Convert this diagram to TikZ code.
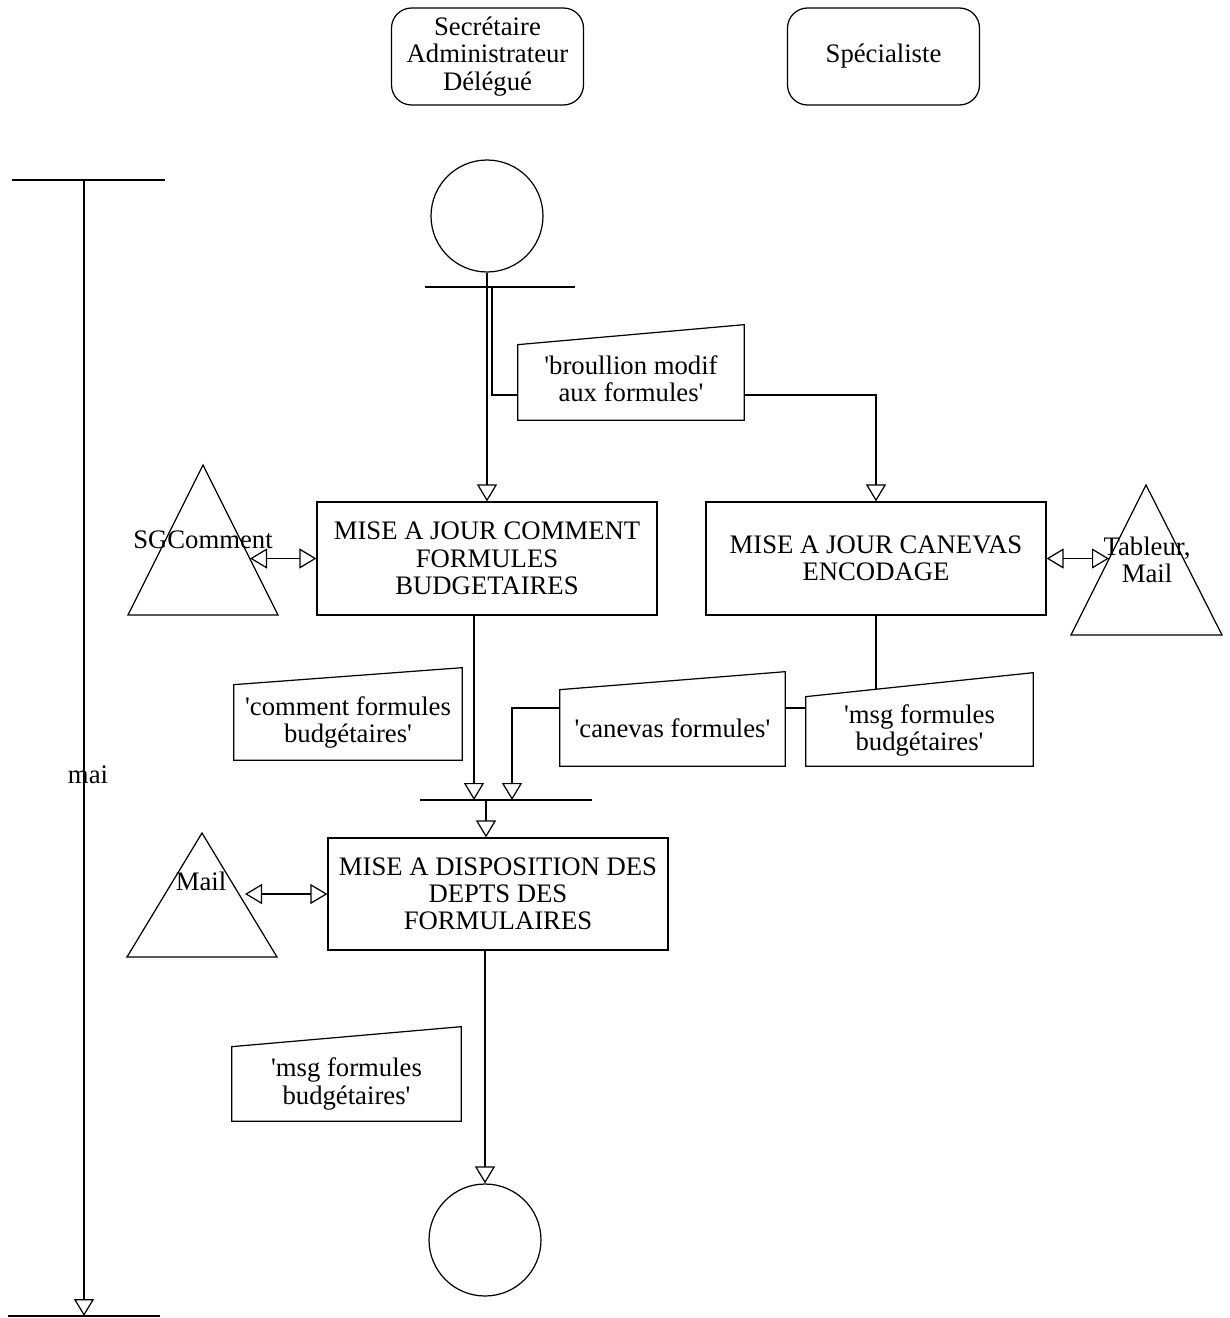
\documentclass[tikz,border=0pt]{standalone}
\usepackage{fontspec}
\setmainfont{Liberation Serif}[Ligatures=TeXOff]
\usetikzlibrary{arrows.meta,calc}
\begin{document}
\begin{tikzpicture}[x=0.02cm,y=-0.02cm,
  every node/.style={font=\fontsize{15.2}{15.5}\selectfont, align=center, inner sep=0pt},
  line/.style={line width=0.7pt},
  tip/.tip={Triangle[open,length=0.34cm,width=0.4cm]},
  arr/.style={line, -tip},
  dbl/.style={line, tip-tip},
  actor/.style={draw, line, rounded corners=0.4cm, minimum width=3.84cm, minimum height=1.94cm},
  proc/.style={draw, line, minimum width=6.8cm, minimum height=2.26cm},
  datum/.style={minimum width=4.54cm, minimum height=1.5cm},
  termnode/.style={draw, line, circle, minimum size=2.24cm},
]
\useasboundingbox (0,0) rectangle (1230,1318);

% actors
\node[actor] (a1) at (487.5,56.5) {Secrétaire\\Administrateur\\Délégué};
\node[actor] (a2) at (883.5,56.5) {Spécialiste};

% timeline
\coordinate (tlTop) at (84,180);
\coordinate (tlBot) at (84,1316);
\draw[line] (12,180) -- (165,180);
\draw[line] (8,1316) -- (160,1316);
\draw[arr] (tlTop) -- (tlBot);
\node (mai) at (88,775) {mai};

% start / end
\node[termnode] (start) at (487,216) {};
\node[termnode] (end) at (485,1240) {};

% bars
\coordinate (b1l) at (425,287);
\coordinate (b1r) at (575,287);
\draw[line] (b1l) -- (b1r);
\coordinate (b1x) at (492,287);
\coordinate (b2l) at (420,800);
\coordinate (b2r) at (592,800);
\draw[line] (b2l) -- (b2r);
\coordinate (b2) at (486,800);
\coordinate (b2b) at (512,800);

% processes
\node[proc] (p1) at (487,558.5) {MISE A JOUR COMMENT\\FORMULES\\BUDGETAIRES};
\node[proc] (p2) at (876,558.5) {MISE A JOUR CANEVAS\\ENCODAGE};
\node[proc, minimum height=2.24cm] (p3) at (498,894) {MISE A DISPOSITION DES\\DEPTS DES\\FORMULAIRES};

% data
\node[datum, minimum width=4.52cm] (d1) at (631,382.5) {\raisebox{3pt}{\begin{tabular}{@{}c@{}}'broullion modif\\aux formules'\end{tabular}}};
\draw[line] (d1.south west) -- (d1.north west) -- ([yshift=0.4cm]d1.north east) -- (d1.south east) -- cycle;
\node[datum, minimum width=4.56cm] (d2) at (348,722.5) {'comment formules\\budgétaires'};
\draw[line] (d2.south west) -- (d2.north west) -- ([yshift=0.34cm]d2.north east) -- (d2.south east) -- cycle;
\node[datum, minimum width=4.5cm, minimum height=1.52cm] (d3) at (672.5,728) {'canevas formules'};
\draw[line] (d3.south west) -- (d3.north west) -- ([yshift=0.36cm]d3.north east) -- (d3.south east) -- cycle;
\node[datum, minimum width=4.54cm, minimum height=1.38cm] (d4) at (919.5,731.5) {\raisebox{2pt}{\begin{tabular}{@{}c@{}}'msg formules\\budgétaires'\end{tabular}}};
\draw[line] (d4.south west) -- (d4.north west) -- ([yshift=0.48cm]d4.north east) -- (d4.south east) -- cycle;
\node[datum, minimum width=4.58cm, minimum height=1.48cm] (d5) at (346.5,1084) {'msg formules\\budgétaires'};
\draw[line] (d5.south west) -- (d5.north west) -- ([yshift=0.4cm]d5.north east) -- (d5.south east) -- cycle;
\coordinate (d4top) at (876,690);

% tools
\draw[line] (203,465) -- (278,615) -- (128,615) -- cycle;
\coordinate (t1e) at (250,558.5);
\node (t1) at (203,540) {SGComment};
\draw[line] (1146,485) -- (1222,635) -- (1071,635) -- cycle;
\coordinate (t2e) at (1109,558.5);
\node (t2) at (1147,560) {Tableur,\\Mail};
\draw[line] (202,833) -- (277,957) -- (127,957) -- cycle;
\coordinate (t3e) at (245,894);
\node (t3) at (201,881) {Mail};

% connectors
\draw[arr] (start.south) -- (p1.north);
\draw[line] (b1x) |- ([yshift=-0.25cm]d1.west);
\draw[arr] ([yshift=-0.25cm]d1.east) -| (p2.north);
\draw[dbl] (t1e) -- (p1.west);
\draw[dbl] (p2.east) -- (t2e);
\draw[dbl] (t3e) -- (p3.west);
\draw[arr] ([xshift=-0.26cm]p1.south) -- ([xshift=-0.26cm]p1.south |- b2);
\draw[line] (p2.south) -- (d4top);
\draw[line] ([yshift=0.4cm]d3.east) -- ([yshift=0.4cm]d3.east -| d4.west);
\draw[arr] ([yshift=0.4cm]d3.west) -| (b2b);
\draw[arr] (b2) -- (b2 |- p3.north);
\draw[arr] (end.north |- p3.south) -- (end.north);
\end{tikzpicture}
\end{document}
